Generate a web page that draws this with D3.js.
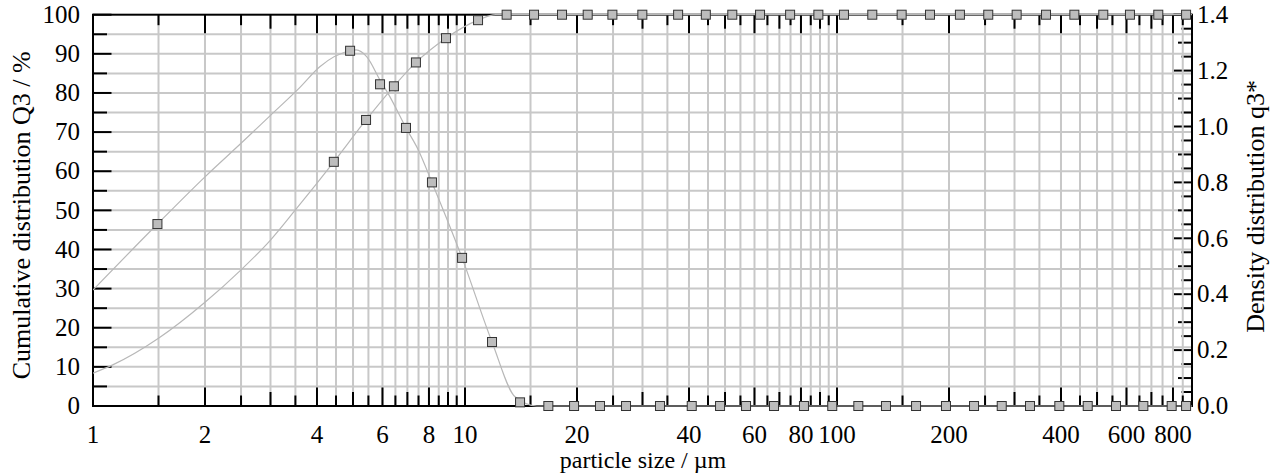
<!DOCTYPE html>
<html><head><meta charset="utf-8">
<script src="https://cdn.jsdelivr.net/npm/d3@7"></script>
<style>
body{margin:0;background:#fff}
svg{display:block}
text{font-family:"Liberation Serif","Times New Roman",serif;fill:#000}
</style>
</head><body>
<svg id="c" width="1275" height="475"></svg>
<script>
// ---- data ----
// cumulative distribution Q3 (%) at class upper edges (µm)
const cumX = [4.44, 5.42, 6.44, 7.38, 8.89, 10.84, 12.94, 15.33, 18.23, 21.37, 24.9, 29.97, 37.4, 44.4, 52.3, 62.1, 74.8, 89.1, 104.4, 124.4, 149.2, 177.8, 214, 255, 304, 364.6, 434.5, 519.7, 613, 730.5, 867.6];
const cumY = [62.4, 73.1, 81.7, 87.8, 94.0, 98.6, 100, 100, 100, 100, 100, 100, 100, 100, 100, 100, 100, 100, 100, 100, 100, 100, 100, 100, 100, 100, 100, 100, 100, 100, 100];
// density distribution q3* at class centres (µm)
const denX = [1.49, 4.91, 5.91, 6.94, 8.15, 9.82, 11.82, 14.06, 16.75, 19.64, 23.06, 27.09, 33.43, 40.69, 48.48, 56.94, 67.7, 81.5, 97.1, 114.1, 135.4, 163.1, 196.3, 233.5, 277.2, 330.2, 395.9, 472, 562.3, 666, 793.6, 867.6];
const denY = [0.651, 1.271, 1.151, 0.995, 0.800, 0.530, 0.229, 0.013, 0, 0, 0, 0, 0, 0, 0, 0, 0, 0, 0, 0, 0, 0, 0, 0, 0, 0, 0, 0, 0, 0, 0, 0];
// smooth fitted curves
const cumCurveX = [1, 1.13, 1.5, 2, 2.5, 3, 3.5, 4.44, 5.42, 6.44, 7.38, 8.89, 10.84, 12.1, 900];
const cumCurveY = [8.4, 10.5, 17.3, 26.5, 34.8, 42.4, 50.1, 62.4, 73.1, 81.7, 87.8, 94.0, 98.6, 100, 100];
const denCurveX = [1, 1.49, 2, 2.5, 3, 3.6, 4.07, 4.91, 5.1, 5.44, 5.91, 6.28, 6.94, 7.49, 8.15, 9.82, 11.82, 13.63, 15.6, 900];
const denCurveY = [0.415, 0.651, 0.82, 0.94, 1.04, 1.14, 1.214, 1.271, 1.274, 1.25, 1.166, 1.107, 0.995, 0.916, 0.800, 0.530, 0.229, 0.033, 0, 0];
// axes
const xDomain = [1, 900];
const xTickLabels = [1, 2, 4, 6, 8, 10, 20, 40, 60, 80, 100, 200, 400, 600, 800];
const leftTickLabels = [0, 10, 20, 30, 40, 50, 60, 70, 80, 90, 100];
const rightTickLabels = [0, 0.2, 0.4, 0.6, 0.8, 1.0, 1.2, 1.4];
const xTitle = "particle size / µm";
const leftTitle = "Cumulative distribution Q3 / %";
const rightTitle = "Density distribution q3*";

// ---- layout ----
const L = 93, R = 1192, T = 14.7, B = 406;
const svg = d3.select("#c");
const x = d3.scaleLog().domain(xDomain).range([L, R]);
const yL = d3.scaleLinear().domain([0, 100]).range([B, T]);
const yR = d3.scaleLinear().domain([0, 1.4]).range([B, T]);

const LONG = 18.5, MED = 14, SHORT = 10.5;
const xTicks = [];
[1, 10, 100].forEach(d => d3.range(1, 10, 0.5).forEach(m => {
  const v = +(m * d).toFixed(6);
  if (v <= xDomain[1]) xTicks.push({v, d, m});
}));
const xLen = t => xTickLabels.includes(t.v) ? LONG : (Number.isInteger(t.m) ? MED : SHORT);
const leftTicks = d3.range(0, 101, 5);
const rightTicks = d3.range(0, 29).map(i => ({v: i * 0.05, i}));

const grid = "#c8c8c8";
svg.append("g").selectAll("line").data(leftTicks.filter(v => v > 0 && v < 100)).join("line")
  .attr("x1", L).attr("x2", R).attr("y1", d => yL(d)).attr("y2", d => yL(d))
  .attr("stroke", grid).attr("stroke-width", 2);
svg.append("g").selectAll("line").data(rightTicks).join("line")
  .attr("x1", R).attr("x2", d => R - (d.i % 4 === 0 ? LONG : d.i % 2 === 0 ? MED : SHORT))
  .attr("y1", d => yR(d.v)).attr("y2", d => yR(d.v))
  .attr("stroke", "#000").attr("stroke-width", 2);
svg.append("g").selectAll("line").data(xTicks.filter(t => t.v > 1 && t.v < 900)).join("line")
  .attr("x1", d => x(d.v)).attr("x2", d => x(d.v)).attr("y1", T).attr("y2", B)
  .attr("stroke", grid).attr("stroke-width", 2);
svg.append("g").selectAll("line").data(leftTicks).join("line")
  .attr("x1", L).attr("x2", d => L + (d % 10 === 0 ? LONG : MED))
  .attr("y1", d => yL(d)).attr("y2", d => yL(d))
  .attr("stroke", "#000").attr("stroke-width", 2);
svg.append("g").selectAll("line").data(xTicks).join("line")
  .attr("x1", d => x(d.v)).attr("x2", d => x(d.v)).attr("y1", B).attr("y2", d => B - xLen(d))
  .attr("stroke", "#000").attr("stroke-width", 2);
svg.append("g").selectAll("line").data(xTicks).join("line")
  .attr("x1", d => x(d.v)).attr("x2", d => x(d.v)).attr("y1", T).attr("y2", d => T + xLen(d))
  .attr("stroke", "#000").attr("stroke-width", 2);
svg.append("rect").attr("x", L).attr("y", T).attr("width", R - L).attr("height", B - T)
  .attr("fill", "none").attr("stroke", "#000").attr("stroke-width", 2);

// curves
svg.append("clipPath").attr("id", "pc").append("rect")
  .attr("x", L).attr("y", T - 2).attr("width", R - L).attr("height", B - T + 4);
const lineC = d3.line().x(d => x(d[0])).y(d => yL(d[1])).curve(d3.curveMonotoneX);
const lineD = d3.line().x(d => x(d[0])).y(d => yR(d[1])).curve(d3.curveMonotoneX);
svg.append("path").datum(d3.zip(cumCurveX, cumCurveY)).attr("d", lineC)
  .attr("fill", "none").attr("stroke", "#b8b8b8").attr("stroke-width", 1.2).attr("clip-path", "url(#pc)");
svg.append("path").datum(d3.zip(denCurveX, denCurveY)).attr("d", lineD)
  .attr("fill", "none").attr("stroke", "#b8b8b8").attr("stroke-width", 1.2).attr("clip-path", "url(#pc)");

// markers
const S = 9;
svg.append("g").selectAll("rect").data(d3.zip(cumX, cumY)).join("rect")
  .attr("x", d => x(d[0]) - S / 2).attr("y", d => yL(d[1]) - S / 2).attr("width", S).attr("height", S)
  .attr("fill", "#bdbdbd").attr("stroke", "#333").attr("stroke-width", 1);
svg.append("g").selectAll("rect").data(d3.zip(denX, denY)).join("rect")
  .attr("x", d => x(d[0]) - S / 2).attr("y", d => yR(d[1]) - S / 2).attr("width", S).attr("height", S)
  .attr("fill", "#bdbdbd").attr("stroke", "#333").attr("stroke-width", 1);

// tick labels
const FS = 25;
svg.append("g").selectAll("text").data(xTickLabels).join("text")
  .attr("x", d => x(d)).attr("y", 443).attr("text-anchor", "middle").attr("font-size", FS).text(d => d);
svg.append("g").selectAll("text").data(leftTickLabels).join("text")
  .attr("x", 80).attr("y", d => yL(d)).attr("dy", "0.33em").attr("text-anchor", "end").attr("font-size", FS).text(d => d);
svg.append("g").selectAll("text").data(rightTickLabels).join("text")
  .attr("x", 1197).attr("y", d => yR(d)).attr("dy", "0.33em").attr("text-anchor", "start").attr("font-size", FS).text(d => d3.format(".1f")(d));
// titles
svg.append("text").attr("x", 643).attr("y", 468).attr("text-anchor", "middle").attr("font-size", 24).text(xTitle);
svg.append("text").attr("transform", `translate(30,${(T + B) / 2 + 5}) rotate(-90)`).attr("text-anchor", "middle").attr("font-size", 26).text(leftTitle);
svg.append("text").attr("transform", `translate(1264,${(T + B) / 2 - 4}) rotate(-90)`).attr("text-anchor", "middle").attr("font-size", 26).text(rightTitle);
</script>
</body></html>
